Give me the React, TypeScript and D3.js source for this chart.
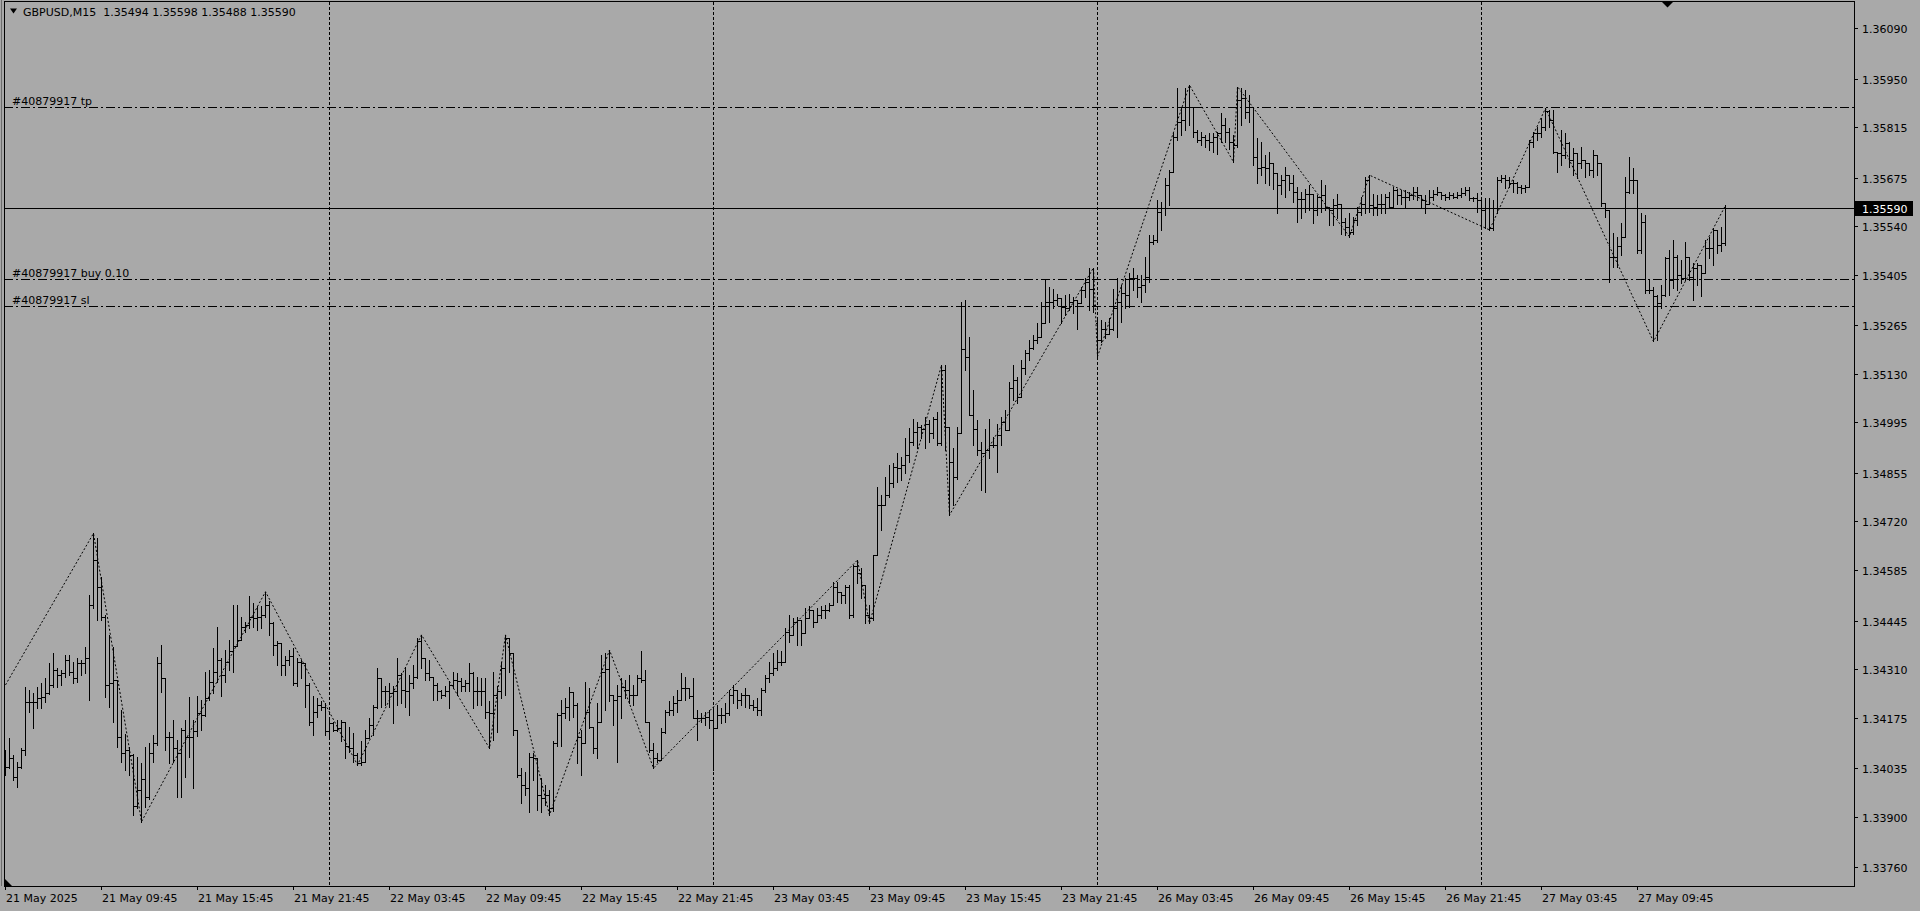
import React from 'react';
import * as d3 from 'd3';

type Bar = [number, number, number, number]; // open, high, low, close

const symbolTitle = 'GBPUSD,M15  1.35494 1.35598 1.35488 1.35590';

const day21: Bar[] = [
[1.34076,1.34085,1.34016,1.34039],[1.34039,1.34118,1.34035,1.34062],[1.34062,1.34071,1.34002,1.34011],[1.34011,1.34053,1.33983,1.34039],
[1.34039,1.34090,1.34035,1.34085],[1.34085,1.34261,1.34071,1.34219],[1.34219,1.34252,1.34192,1.34219],[1.34219,1.34243,1.34145,1.34219],
[1.34219,1.34261,1.34201,1.34229],[1.34229,1.34270,1.34201,1.34233],[1.34233,1.34284,1.34219,1.34243],[1.34243,1.34326,1.34240,1.34266],
[1.34266,1.34354,1.34260,1.34307],[1.34307,1.34312,1.34261,1.34293],[1.34293,1.34307,1.34266,1.34298],[1.34298,1.34349,1.34289,1.34335],
[1.34335,1.34349,1.34293,1.34303],[1.34303,1.34330,1.34270,1.34284],[1.34284,1.34340,1.34275,1.34326],[1.34326,1.34335,1.34293,1.34326],
[1.34326,1.34372,1.34298,1.34340],[1.34340,1.34516,1.34224,1.34488],[1.34488,1.34687,1.34480,1.34613],[1.34613,1.34673,1.34446,1.34539],
[1.34539,1.34567,1.34446,1.34455],[1.34455,1.34460,1.34233,1.34266],[1.34266,1.34405,1.34205,1.34270],[1.34270,1.34372,1.34164,1.34280],
[1.34280,1.34280,1.34094,1.34122],[1.34122,1.34196,1.34053,1.34076],[1.34076,1.34131,1.34030,1.34085],[1.34085,1.34094,1.34016,1.34071],
[1.34071,1.34075,1.33905,1.33930],[1.33930,1.34067,1.33925,1.33974],[1.33974,1.34048,1.33886,1.34006],[1.34006,1.34094,1.33928,1.33955],
[1.33955,1.34104,1.33950,1.34076],[1.34076,1.34127,1.34053,1.34104],[1.34104,1.34344,1.34100,1.34326],[1.34326,1.34377,1.34247,1.34284],
[1.34284,1.34284,1.34085,1.34122],[1.34122,1.34136,1.34048,1.34122],[1.34122,1.34168,1.34053,1.34090],[1.34090,1.34113,1.33955,1.34076],
[1.34076,1.34145,1.33955,1.34141],[1.34141,1.34168,1.34011,1.34122],[1.34122,1.34233,1.34067,1.34122],[1.34122,1.34169,1.33980,1.34137],
[1.34137,1.34234,1.34123,1.34188],[1.34188,1.34225,1.34141,1.34183],[1.34183,1.34303,1.34180,1.34229],[1.34229,1.34308,1.34225,1.34275],
[1.34275,1.34368,1.34243,1.34303],[1.34303,1.34428,1.34275,1.34336],[1.34336,1.34340,1.34234,1.34294],[1.34294,1.34363,1.34275,1.34331],
[1.34331,1.34391,1.34308,1.34359],[1.34359,1.34488,1.34303,1.34373],[1.34373,1.34488,1.34373,1.34391],[1.34391,1.34456,1.34391,1.34428],
[1.34428,1.34442,1.34414,1.34433],[1.34433,1.34512,1.34424,1.34456],[1.34456,1.34493,1.34428,1.34451],[1.34451,1.34484,1.34419,1.34456],
[1.34456,1.34484,1.34424,1.34461],[1.34461,1.34525,1.34456,1.34488],[1.34488,1.34498,1.34405,1.34438],[1.34438,1.34442,1.34350,1.34377],
[1.34377,1.34387,1.34322,1.34382],[1.34382,1.34382,1.34294,1.34322],[1.34322,1.34345,1.34294,1.34336],[1.34336,1.34363,1.34322,1.34345],
[1.34345,1.34368,1.34266,1.34271],[1.34271,1.34340,1.34262,1.34331],[1.34331,1.34335,1.34285,1.34326],[1.34326,1.34326,1.34206,1.34266],
[1.34266,1.34270,1.34155,1.34164],[1.34164,1.34234,1.34127,1.34192],[1.34192,1.34229,1.34178,1.34211],[1.34211,1.34220,1.34197,1.34206],
[1.34206,1.34215,1.34127,1.34137],
];

const day22: Bar[] = [
[1.34137,1.34174,1.34123,1.34160],[1.34160,1.34164,1.34137,1.34141],[1.34141,1.34169,1.34137,1.34146],[1.34146,1.34169,1.34109,1.34164],
[1.34164,1.34164,1.34063,1.34095],[1.34095,1.34150,1.34081,1.34090],[1.34090,1.34132,1.34053,1.34072],[1.34072,1.34076,1.34044,1.34049],
[1.34049,1.34109,1.34044,1.34053],[1.34053,1.34140,1.34053,1.34118],[1.34118,1.34174,1.34118,1.34155],[1.34155,1.34211,1.34127,1.34206],
[1.34206,1.34313,1.34202,1.34285],[1.34285,1.34285,1.34206,1.34248],[1.34248,1.34262,1.34211,1.34248],[1.34248,1.34271,1.34206,1.34243],
[1.34243,1.34262,1.34160,1.34248],[1.34248,1.34340,1.34211,1.34294],[1.34294,1.34298,1.34215,1.34252],[1.34252,1.34317,1.34206,1.34248],
[1.34248,1.34294,1.34183,1.34271],[1.34271,1.34322,1.34257,1.34289],[1.34289,1.34395,1.34285,1.34387],[1.34387,1.34405,1.34313,1.34340],
[1.34340,1.34340,1.34280,1.34298],[1.34298,1.34335,1.34280,1.34289],[1.34289,1.34289,1.34225,1.34266],[1.34266,1.34271,1.34225,1.34248],
[1.34248,1.34252,1.34229,1.34238],[1.34238,1.34262,1.34234,1.34248],[1.34248,1.34276,1.34202,1.34266],[1.34266,1.34303,1.34257,1.34280],
[1.34280,1.34298,1.34238,1.34276],[1.34276,1.34285,1.34248,1.34262],[1.34262,1.34280,1.34248,1.34271],[1.34271,1.34327,1.34248,1.34298],
[1.34298,1.34303,1.34202,1.34248],[1.34248,1.34289,1.34211,1.34248],[1.34248,1.34285,1.34211,1.34248],[1.34248,1.34285,1.34174,1.34192],
[1.34192,1.34220,1.34090,1.34188],[1.34188,1.34303,1.34113,1.34238],[1.34238,1.34262,1.34136,1.34248],[1.34248,1.34331,1.34229,1.34313],
[1.34313,1.34405,1.34238,1.34395],[1.34395,1.34395,1.34303,1.34354],[1.34354,1.34354,1.34127,1.34141],[1.34141,1.34141,1.34011,1.34016],
[1.34016,1.34034,1.33937,1.33988],[1.33988,1.34025,1.33960,1.33979],[1.33979,1.34076,1.33914,1.34067],[1.34067,1.34076,1.34002,1.34062],
[1.34062,1.34062,1.33919,1.33960],[1.33960,1.34007,1.33914,1.33951],[1.33951,1.33988,1.33933,1.33960],[1.33960,1.33974,1.33905,1.33925],
[1.33925,1.34109,1.33915,1.34104],[1.34104,1.34187,1.34095,1.34183],[1.34183,1.34224,1.34095,1.34187],[1.34187,1.34229,1.34173,1.34206],
[1.34206,1.34261,1.34169,1.34247],[1.34247,1.34247,1.34178,1.34210],[1.34210,1.34215,1.34048,1.34122],[1.34122,1.34141,1.34016,1.34104],
[1.34104,1.34275,1.34104,1.34192],[1.34192,1.34257,1.34146,1.34150],[1.34150,1.34150,1.34076,1.34090],[1.34090,1.34215,1.34062,1.34164],
[1.34164,1.34349,1.34164,1.34303],[1.34303,1.34354,1.34197,1.34310],[1.34310,1.34363,1.34220,1.34238],[1.34238,1.34238,1.34155,1.34224],
[1.34224,1.34266,1.34053,1.34234],[1.34234,1.34285,1.34173,1.34261],[1.34261,1.34280,1.34229,1.34252],[1.34252,1.34294,1.34215,1.34238],
[1.34238,1.34266,1.34210,1.34238],[1.34238,1.34294,1.34238,1.34285],[1.34285,1.34359,1.34275,1.34280],[1.34280,1.34308,1.34164,1.34164],
[1.34164,1.34164,1.34081,1.34085],[1.34085,1.34104,1.34035,1.34062],[1.34062,1.34076,1.34053,1.34058],[1.34058,1.34146,1.34058,1.34136],
[1.34136,1.34197,1.34132,1.34192],[1.34192,1.34220,1.34183,1.34197],[1.34197,1.34234,1.34183,1.34215],[1.34215,1.34252,1.34192,1.34224],
[1.34224,1.34298,1.34224,1.34257],[1.34257,1.34289,1.34224,1.34257],[1.34257,1.34257,1.34229,1.34234],[1.34234,1.34285,1.34173,1.34173],
[1.34173,1.34197,1.34113,1.34173],[1.34173,1.34187,1.34164,1.34173],[1.34173,1.34192,1.34155,1.34178],[1.34178,1.34197,1.34146,1.34169],
];

const day23: Bar[] = [
[1.34169,1.34197,1.34030,1.34146],[1.34146,1.34210,1.34146,1.34183],[1.34183,1.34201,1.34160,1.34183],[1.34183,1.34215,1.34164,1.34187],
[1.34187,1.34252,1.34183,1.34238],[1.34238,1.34266,1.34215,1.34252],[1.34252,1.34252,1.34201,1.34224],[1.34224,1.34243,1.34210,1.34238],
[1.34238,1.34257,1.34206,1.34238],[1.34238,1.34238,1.34201,1.34210],[1.34210,1.34224,1.34197,1.34206],[1.34206,1.34229,1.34183,1.34197],
[1.34197,1.34257,1.34183,1.34252],[1.34252,1.34294,1.34247,1.34285],[1.34285,1.34331,1.34275,1.34298],[1.34298,1.34354,1.34294,1.34312],
[1.34312,1.34363,1.34308,1.34331],[1.34331,1.34359,1.34322,1.34331],[1.34331,1.34423,1.34331,1.34414],[1.34414,1.34460,1.34386,1.34405],
[1.34405,1.34451,1.34405,1.34442],[1.34442,1.34456,1.34377,1.34447],[1.34447,1.34447,1.34377,1.34410],[1.34410,1.34479,1.34410,1.34451],
[1.34451,1.34484,1.34451,1.34474],[1.34474,1.34474,1.34428,1.34442],[1.34442,1.34479,1.34442,1.34460],[1.34460,1.34484,1.34451,1.34474],
[1.34474,1.34488,1.34451,1.34474],[1.34474,1.34493,1.34470,1.34488],[1.34488,1.34553,1.34488,1.34539],[1.34539,1.34553,1.34497,1.34525],
[1.34525,1.34525,1.34493,1.34516],[1.34516,1.34544,1.34493,1.34539],[1.34539,1.34544,1.34451,1.34460],[1.34460,1.34599,1.34456,1.34595],
[1.34595,1.34613,1.34548,1.34576],[1.34576,1.34590,1.34507,1.34544],[1.34544,1.34544,1.34437,1.34460],[1.34460,1.34488,1.34437,1.34451],
[1.34451,1.34627,1.34447,1.34627],[1.34627,1.34817,1.34627,1.34766],[1.34766,1.34794,1.34697,1.34766],[1.34766,1.34845,1.34766,1.34794],
[1.34794,1.34877,1.34789,1.34826],[1.34826,1.34882,1.34817,1.34872],[1.34872,1.34910,1.34831,1.34868],[1.34868,1.34900,1.34835,1.34877],
[1.34877,1.34951,1.34854,1.34905],[1.34905,1.34979,1.34886,1.34940],[1.34940,1.35006,1.34932,1.34969],[1.34969,1.34997,1.34923,1.34983],
[1.34983,1.34988,1.34951,1.34978],[1.34978,1.35011,1.34923,1.34992],[1.34992,1.35002,1.34941,1.34965],[1.34965,1.35011,1.34951,1.35006],
[1.35006,1.35025,1.34932,1.34937],[1.34937,1.35154,1.34932,1.35140],[1.35140,1.35154,1.34918,1.34983],[1.34983,1.34983,1.34738,1.34886],
[1.34886,1.34923,1.34765,1.34844],[1.34844,1.34983,1.34839,1.34965],[1.34965,1.35330,1.34965,1.35200],[1.35200,1.35335,1.35140,1.35177],
[1.35177,1.35233,1.35015,1.35015],[1.35015,1.35085,1.34932,1.34978],[1.34978,1.35002,1.34904,1.34918],[1.34918,1.34941,1.34807,1.34909],
[1.34909,1.34978,1.34802,1.34918],[1.34918,1.35006,1.34895,1.34932],[1.34932,1.34955,1.34927,1.34932],[1.34932,1.34992,1.34858,1.34960],
[1.34960,1.35011,1.34932,1.34997],[1.34997,1.35029,1.34974,1.34974],[1.34974,1.35108,1.34974,1.35090],[1.35090,1.35154,1.35057,1.35113],
[1.35113,1.35122,1.35048,1.35066],[1.35066,1.35168,1.35066,1.35145],[1.35145,1.35196,1.35131,1.35187],[1.35187,1.35224,1.35168,1.35201],
[1.35201,1.35238,1.35200,1.35224],[1.35224,1.35270,1.35215,1.35233],[1.35233,1.35330,1.35233,1.35270],[1.35270,1.35392,1.35270,1.35330],
[1.35330,1.35372,1.35275,1.35330],[1.35330,1.35367,1.35312,1.35335],[1.35335,1.35353,1.35321,1.35340],[1.35340,1.35340,1.35270,1.35316],
[1.35316,1.35349,1.35293,1.35312],[1.35312,1.35353,1.35307,1.35330],[1.35330,1.35344,1.35298,1.35335],[1.35335,1.35335,1.35256,1.35326],
[1.35326,1.35372,1.35326,1.35363],[1.35363,1.35395,1.35344,1.35386],[1.35386,1.35423,1.35307,1.35367],[1.35367,1.35425,1.35301,1.35321],
];

const day26: Bar[] = [
[1.35270,1.35280,1.35178,1.35225],[1.35225,1.35280,1.35219,1.35256],[1.35256,1.35275,1.35229,1.35242],[1.35242,1.35284,1.35242,1.35256],
[1.35256,1.35367,1.35252,1.35312],[1.35312,1.35395,1.35233,1.35330],[1.35330,1.35377,1.35275,1.35354],[1.35354,1.35395,1.35312,1.35349],
[1.35349,1.35409,1.35316,1.35395],[1.35395,1.35423,1.35363,1.35395],[1.35395,1.35404,1.35344,1.35372],[1.35372,1.35404,1.35330,1.35377],
[1.35377,1.35455,1.35358,1.35400],[1.35400,1.35516,1.35386,1.35497],[1.35497,1.35516,1.35492,1.35502],[1.35502,1.35613,1.35497,1.35580],
[1.35580,1.35608,1.35529,1.35590],[1.35590,1.35673,1.35571,1.35654],[1.35654,1.35696,1.35599,1.35691],[1.35691,1.35798,1.35691,1.35789],
[1.35789,1.35923,1.35779,1.35830],[1.35830,1.35872,1.35793,1.35835],[1.35835,1.35923,1.35807,1.35872],[1.35872,1.35932,1.35821,1.35872],
[1.35872,1.35872,1.35789,1.35803],[1.35803,1.35807,1.35775,1.35779],[1.35779,1.35803,1.35766,1.35789],[1.35789,1.35793,1.35761,1.35779],
[1.35779,1.35798,1.35752,1.35775],[1.35775,1.35798,1.35747,1.35789],[1.35789,1.35803,1.35742,1.35798],[1.35798,1.35854,1.35775,1.35821],
[1.35821,1.35840,1.35775,1.35803],[1.35803,1.35812,1.35756,1.35775],[1.35775,1.35793,1.35719,1.35766],[1.35766,1.35928,1.35761,1.35891],
[1.35891,1.35923,1.35821,1.35895],[1.35895,1.35918,1.35840,1.35858],[1.35858,1.35904,1.35830,1.35872],[1.35872,1.35872,1.35710,1.35733],
[1.35733,1.35784,1.35659,1.35701],[1.35701,1.35775,1.35682,1.35705],[1.35705,1.35738,1.35659,1.35701],[1.35701,1.35747,1.35654,1.35715],
[1.35715,1.35715,1.35645,1.35687],[1.35687,1.35687,1.35576,1.35654],[1.35654,1.35682,1.35631,1.35668],[1.35668,1.35705,1.35622,1.35682],
[1.35682,1.35682,1.35640,1.35659],[1.35659,1.35682,1.35608,1.35636],[1.35636,1.35650,1.35552,1.35617],[1.35617,1.35636,1.35562,1.35617],
[1.35617,1.35645,1.35580,1.35631],[1.35631,1.35654,1.35585,1.35631],[1.35631,1.35631,1.35548,1.35585],[1.35585,1.35627,1.35571,1.35622],
[1.35622,1.35668,1.35580,1.35627],[1.35627,1.35654,1.35585,1.35594],[1.35594,1.35594,1.35543,1.35585],[1.35585,1.35617,1.35543,1.35599],
[1.35599,1.35631,1.35562,1.35603],[1.35603,1.35603,1.35520,1.35552],[1.35552,1.35562,1.35515,1.35539],[1.35539,1.35576,1.35511,1.35525],
[1.35525,1.35566,1.35520,1.35557],[1.35557,1.35594,1.35543,1.35580],[1.35580,1.35622,1.35571,1.35603],[1.35603,1.35677,1.35576,1.35668],
[1.35668,1.35682,1.35580,1.35600],[1.35600,1.35631,1.35571,1.35594],[1.35594,1.35627,1.35571,1.35603],[1.35603,1.35631,1.35576,1.35603],
[1.35603,1.35631,1.35576,1.35622],[1.35622,1.35636,1.35590,1.35594],[1.35594,1.35650,1.35590,1.35641],[1.35641,1.35645,1.35603,1.35627],
[1.35627,1.35641,1.35603,1.35622],[1.35622,1.35641,1.35594,1.35622],[1.35622,1.35636,1.35613,1.35627],[1.35627,1.35650,1.35617,1.35636],
[1.35636,1.35650,1.35613,1.35627],[1.35627,1.35627,1.35594,1.35613],[1.35613,1.35627,1.35576,1.35603],[1.35603,1.35641,1.35603,1.35622],
[1.35622,1.35641,1.35613,1.35631],[1.35631,1.35650,1.35627,1.35636],[1.35636,1.35636,1.35617,1.35627],[1.35627,1.35631,1.35613,1.35622],
[1.35622,1.35636,1.35617,1.35627],[1.35627,1.35632,1.35618,1.35622],[1.35622,1.35636,1.35618,1.35627],[1.35627,1.35646,1.35622,1.35632],
[1.35632,1.35650,1.35627,1.35641],[1.35641,1.35650,1.35613,1.35618],[1.35618,1.35622,1.35609,1.35618],[1.35618,1.35632,1.35581,1.35613],
];

const day27: Bar[] = [
[1.35613,1.35613,1.35535,1.35585],[1.35585,1.35618,1.35535,1.35590],[1.35590,1.35618,1.35530,1.35535],[1.35535,1.35613,1.35530,1.35590],
[1.35590,1.35678,1.35576,1.35669],[1.35669,1.35683,1.35664,1.35673],[1.35673,1.35683,1.35646,1.35669],[1.35669,1.35678,1.35650,1.35660],
[1.35660,1.35669,1.35636,1.35660],[1.35660,1.35664,1.35632,1.35650],[1.35650,1.35655,1.35632,1.35646],[1.35646,1.35655,1.35636,1.35650],
[1.35650,1.35780,1.35650,1.35775],[1.35775,1.35803,1.35761,1.35798],[1.35798,1.35817,1.35780,1.35798],[1.35798,1.35840,1.35789,1.35817],
[1.35817,1.35868,1.35808,1.35859],[1.35859,1.35863,1.35817,1.35835],[1.35835,1.35863,1.35743,1.35747],[1.35747,1.35747,1.35692,1.35743],
[1.35743,1.35808,1.35710,1.35738],[1.35738,1.35798,1.35729,1.35771],[1.35771,1.35775,1.35706,1.35724],[1.35724,1.35757,1.35683,1.35743],
[1.35743,1.35743,1.35673,1.35715],[1.35715,1.35761,1.35701,1.35724],[1.35724,1.35724,1.35678,1.35715],[1.35715,1.35715,1.35683,1.35697],
[1.35697,1.35752,1.35678,1.35738],[1.35738,1.35738,1.35683,1.35715],[1.35715,1.35715,1.35595,1.35604],[1.35604,1.35604,1.35567,1.35585],
[1.35585,1.35585,1.35386,1.35456],[1.35456,1.35521,1.35428,1.35456],[1.35456,1.35511,1.35428,1.35484],[1.35484,1.35548,1.35460,1.35511],
[1.35511,1.35678,1.35511,1.35636],[1.35636,1.35733,1.35632,1.35669],[1.35669,1.35701,1.35632,1.35669],[1.35669,1.35669,1.35465,1.35474],
[1.35474,1.35576,1.35465,1.35553],[1.35553,1.35571,1.35354,1.35363],[1.35363,1.35391,1.35354,1.35363],[1.35363,1.35372,1.35220,1.35345],
[1.35345,1.35349,1.35224,1.35326],[1.35326,1.35377,1.35312,1.35349],[1.35349,1.35456,1.35345,1.35451],[1.35451,1.35474,1.35349,1.35391],
[1.35391,1.35502,1.35368,1.35456],[1.35456,1.35460,1.35363,1.35405],[1.35405,1.35446,1.35382,1.35396],[1.35396,1.35497,1.35391,1.35456],
[1.35456,1.35456,1.35391,1.35400],[1.35400,1.35437,1.35335,1.35423],[1.35423,1.35437,1.35377,1.35433],[1.35433,1.35433,1.35345,1.35409],
[1.35409,1.35502,1.35409,1.35479],[1.35479,1.35511,1.35451,1.35479],[1.35479,1.35534,1.35433,1.35530],[1.35530,1.35530,1.35465,1.35488],
[1.35488,1.35539,1.35470,1.35494],[1.35494,1.35598,1.35488,1.35590],
];

const sessions = [
  { date: '21 May', firstSlot: '03:45', bars: day21 },
  { date: '22 May', firstSlot: '00:00', bars: day22 },
  { date: '23 May', firstSlot: '00:00', bars: day23 },
  { date: '26 May', firstSlot: '00:00', bars: day26 },
  { date: '27 May', firstSlot: '00:00', bars: day27 },
];

const zigzagPivots: [string, number][] = [
  ['21 May 03:45', 1.34266], ['21 May 09:15', 1.34687], ['21 May 12:15', 1.33886], ['21 May 20:00', 1.34525],
  ['22 May 01:45', 1.34044], ['22 May 05:45', 1.34405], ['22 May 10:00', 1.34090], ['22 May 11:00', 1.34405],
  ['22 May 13:45', 1.33905], ['22 May 17:30', 1.34363], ['22 May 20:15', 1.34035], ['23 May 09:00', 1.34613],
  ['23 May 09:45', 1.34437], ['23 May 14:15', 1.35154], ['23 May 14:45', 1.34738], ['23 May 23:45', 1.35425],
  ['26 May 00:00', 1.35178], ['26 May 05:45', 1.35932], ['26 May 08:30', 1.35719], ['26 May 08:45', 1.35928],
  ['26 May 15:45', 1.35511], ['26 May 17:00', 1.35682], ['27 May 00:30', 1.35530], ['27 May 04:00', 1.35868],
  ['27 May 10:45', 1.35220], ['27 May 15:15', 1.35598],
];

const orderLabels = ['#40879917 tp', '#40879917 buy 0.10', '#40879917 sl'];
const orderPrices = [1.35870, 1.35393, 1.35318];
const bidPrice = 1.35590;

const yTickValues = [1.36090, 1.35950, 1.35815, 1.35675, 1.35540, 1.35405, 1.35265, 1.35130, 1.34995,
  1.34855, 1.34720, 1.34585, 1.34445, 1.34310, 1.34175, 1.34035, 1.33900, 1.33760];

const xTickTimes = ['21 May 03:45', '21 May 09:45', '21 May 15:45', '21 May 21:45', '22 May 03:45', '22 May 09:45',
  '22 May 15:45', '22 May 21:45', '23 May 03:45', '23 May 09:45', '23 May 15:45', '23 May 21:45', '26 May 03:45',
  '26 May 09:45', '26 May 15:45', '26 May 21:45', '27 May 03:45', '27 May 09:45'];
const xTickLabels = ['21 May 2025', '21 May 09:45', '21 May 15:45', '21 May 21:45', '22 May 03:45', '22 May 09:45',
  '22 May 15:45', '22 May 21:45', '23 May 03:45', '23 May 09:45', '23 May 15:45', '23 May 21:45', '26 May 03:45',
  '26 May 09:45', '26 May 15:45', '26 May 21:45', '27 May 03:45', '27 May 09:45'];
const separatorTimes = ['22 May 00:00', '23 May 00:00', '26 May 00:00', '27 May 00:00'];

const FONT = '"DejaVu Sans", Tahoma, sans-serif';
const BG = '#a9a9a9';

function slotTime(first: string, k: number) {
  const [h, m] = first.split(':').map(Number);
  const t = h * 60 + m + k * 15;
  return String(Math.floor(t / 60)).padStart(2, '0') + ':' + String(t % 60).padStart(2, '0');
}

type Row = { time: string; o: number; h: number; l: number; c: number };
const rows: Row[] = [];
sessions.forEach((s) => s.bars.forEach((b, k) => rows.push({ time: s.date + ' ' + slotTime(s.firstSlot, k), o: b[0], h: b[1], l: b[2], c: b[3] })));
const indexOf = new Map(rows.map((r, i) => [r.time, i]));

const W = 1920, H = 911;
const plotLeft = 4, plotRight = 1854, plotTop = 1, plotBottom = 886;

export default function App() {
  const x = d3.scaleLinear().domain([0, rows.length - 1]).range([5, 5 + 4 * (rows.length - 1)]);
  const y = d3.scaleLinear().domain([1.33760, 1.36090]).range([867.1, 28.3]);
  const px = (i: number) => Math.round(x(i));
  const py = (v: number) => Math.round(y(v));

  let barPath = '';
  rows.forEach((r, i) => {
    const X = px(i) + 0.5;
    const yh = py(r.h), yl = py(r.l);
    barPath += `M${X},${yh}V${yl + 1}`;
    barPath += `M${X - 1.5},${py(r.o) + 0.5}h1`;
    barPath += `M${X + 0.5},${py(r.c) + 0.5}h1.5`;
  });

  const zz = d3.line<[string, number]>()
    .x((d) => x(indexOf.get(d[0]) as number) + 0.5)
    .y((d) => y(d[1]))(zigzagPivots) as string;

  const bidY = py(bidPrice) + 0.5;

  return (
    <svg width={W} height={H} style={{ position: 'fixed', left: 0, top: 0, display: 'block' }} fontFamily={FONT} fontSize={11}>
      <rect x={0} y={0} width={W} height={H} fill={BG} />

      {separatorTimes.map((t) => {
        const X = px(indexOf.get(t) as number) + 0.5;
        return <line key={t} x1={X} x2={X} y1={plotTop + 1} y2={plotBottom} stroke="#000" strokeWidth={1} strokeDasharray="3,2" shapeRendering="crispEdges" />;
      })}

      {orderPrices.map((p, k) => {
        const Y = py(p) + 0.5;
        return (
          <g key={k}>
            <line x1={plotLeft} x2={plotRight} y1={Y} y2={Y} stroke="#000" strokeWidth={1} strokeDasharray="9,3,2,3" shapeRendering="crispEdges" />
            <text x={12} y={Y - 3} fill="#000">{orderLabels[k]}</text>
          </g>
        );
      })}

      <line x1={plotLeft} x2={plotRight} y1={bidY} y2={bidY} stroke="#000" strokeWidth={1} shapeRendering="crispEdges" />

      <path d={zz} fill="none" stroke="#000" strokeWidth={1} strokeDasharray="2,2" />

      <path d={barPath} fill="none" stroke="#000" strokeWidth={1} shapeRendering="crispEdges" />

      <line x1={1.5} x2={1.5} y1={0} y2={plotBottom} stroke="#6e6e6e" strokeWidth={1} shapeRendering="crispEdges" />
      <rect x={plotLeft + 0.5} y={plotTop + 0.5} width={plotRight - plotLeft} height={plotBottom - plotTop} fill="none" stroke="#000" strokeWidth={1} shapeRendering="crispEdges" />

      <polygon points="10,8.5 17,8.5 13.5,13.5" fill="#000" />
      <text x={23} y={16} fill="#000" style={{ whiteSpace: 'pre' }} xmlSpace="preserve">{symbolTitle}</text>

      <polygon points="1662,2 1673,2 1667.5,7.5" fill="#000" />

      {yTickValues.map((v) => {
        const Y = py(v) + 0.5;
        return (
          <g key={v}>
            <line x1={plotRight} x2={plotRight + 4} y1={Y} y2={Y} stroke="#000" shapeRendering="crispEdges" />
            <text x={1862} y={Y + 4} fill="#000">{v.toFixed(5)}</text>
          </g>
        );
      })}
      <rect x={1855} y={bidY - 7.5} width={58} height={15} fill="#000" />
      <text x={1862} y={bidY + 4} fill="#fff">{bidPrice.toFixed(5)}</text>

      {xTickTimes.map((t, k) => {
        const X = px(indexOf.get(t) as number) + 0.5;
        return (
          <g key={t}>
            <line x1={X} x2={X} y1={plotBottom} y2={plotBottom + 4} stroke="#000" shapeRendering="crispEdges" />
            <text x={X + 0.5} y={902} fill="#000">{xTickLabels[k]}</text>
          </g>
        );
      })}

      <polygon points="4,878 4,886 12,886" fill="#000" />
    </svg>
  );
}
